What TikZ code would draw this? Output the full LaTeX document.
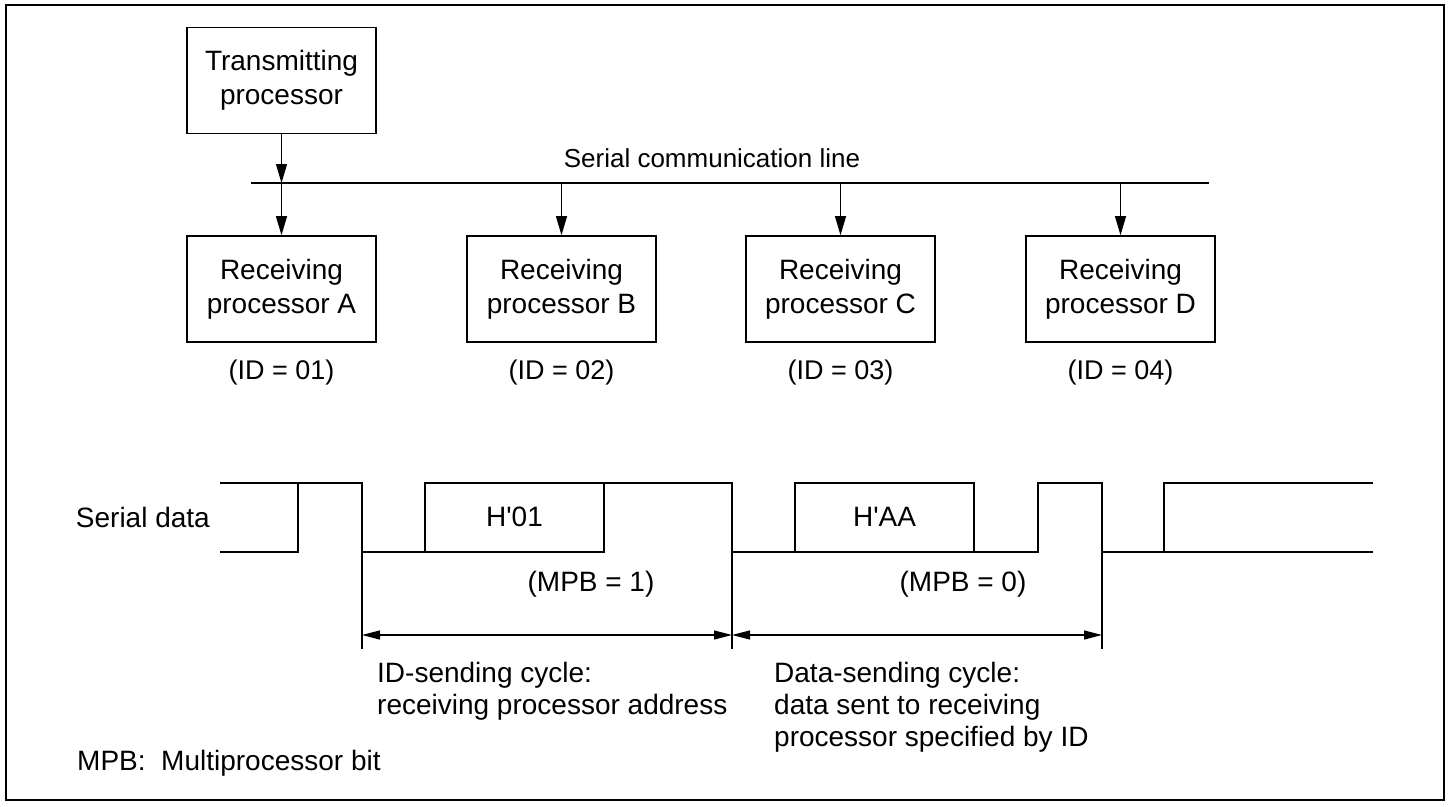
\documentclass[tikz,border=0pt]{standalone}
\usepackage{fontspec}
\setmainfont{Liberation Sans}
\usetikzlibrary{arrows.meta}
\begin{document}
\begin{tikzpicture}[x=1pt,y=-1pt,
  txt/.style={inner sep=0pt, font=\fontsize{28}{32}\selectfont},
  procbox/.style={draw, line width=1.6pt, minimum width=189pt, minimum height=106pt, align=center, inner sep=0pt, font=\fontsize{28}{34}\selectfont},
  busline/.style={line width=1.1pt},
  arr/.style={line width=1.2pt, -{Triangle[length=19pt,width=11pt]}},
  wave/.style={line width=1.6pt, line cap=rect},
  dimline/.style={line width=1.1pt},
  dimarr/.style={line width=1.1pt, {Triangle[length=18pt,width=9pt]}-{Triangle[length=18pt,width=9pt]}},
  frame/.style={line width=1.5pt}
]
\useasboundingbox (0,0) rectangle (1451,806);
\draw[frame] (6,5) rectangle (1444,800);

% processors
\node[procbox] (tx) at (281.5,80.5) {Transmitting\\processor};
\node[procbox] (ra) at (281.5,289) {Receiving\\processor A};
\node[procbox] (rb) at (561.5,289) {Receiving\\processor B};
\node[procbox] (rc) at (840.5,289) {Receiving\\processor C};
\node[procbox] (rd) at (1120.5,289) {Receiving\\processor D};

\node[txt, font=\fontsize{27}{32}\selectfont] (ida) at (281.5,373) {(ID = 01)};
\node[txt, font=\fontsize{27}{32}\selectfont] (idb) at (561.5,373) {(ID = 02)};
\node[txt, font=\fontsize{27}{32}\selectfont] (idc) at (840.5,373) {(ID = 03)};
\node[txt, font=\fontsize{27}{32}\selectfont] (idd) at (1120.5,373) {(ID = 04)};

% bus
\coordinate (busL) at (251,183);
\coordinate (busR) at (1209,183);
\draw[busline] (busL) -- (busR);
\node[txt, anchor=base, font=\fontsize{26}{32}\selectfont] (buslbl) at (712,167) {Serial communication line};
\coordinate (bA) at (281.5,183);
\coordinate (bB) at (561.5,183);
\coordinate (bC) at (840.5,183);
\coordinate (bD) at (1120.5,183);
\draw[arr] (tx.south) -- (bA);
\draw[arr] (bA) -- (ra.north);
\draw[arr] (bB) -- (rb.north);
\draw[arr] (bC) -- (rc.north);
\draw[arr] (bD) -- (rd.north);

% serial data waveform
\node[txt, anchor=east] (sd) at (210,517) {Serial data};
\draw[wave] (221,483) -- (362,483);
\draw[wave] (425,483) -- (732,483);
\draw[wave] (795,483) -- (974,483);
\draw[wave] (1038,483) -- (1102,483);
\draw[wave] (1164,483) -- (1372,483);
\draw[wave] (221,552) -- (298,552);
\draw[wave] (362,552) -- (604,552);
\draw[wave] (732,552) -- (1038,552);
\draw[wave] (1102,552) -- (1372,552);
\foreach \xx in {298,362,425,604,732,795,974,1038,1102,1164}
  \draw[wave] (\xx,483) -- (\xx,552);
\node[txt] (h01) at (514.5,517) {H\textquotesingle 01};
\node[txt] (haa) at (884.5,517) {H\textquotesingle AA};

% dimensions
\node[txt] (mpb1) at (591,584) {(MPB = 1)};
\node[txt] (mpb0) at (963,584) {(MPB = 0)};
\draw[dimline] (362,552) -- (362,649);
\draw[dimline] (732,552) -- (732,649);
\draw[dimline] (1102,552) -- (1102,649);
\coordinate (d1) at (362,635);
\coordinate (d2) at (732,635);
\coordinate (d3) at (1102,635);
\draw[dimarr] (d1) -- (d2);
\draw[dimarr] (d2) -- (d3);

\node[txt, anchor=north west, align=left] (idcyc) at (377,662) {ID-sending cycle:\\receiving processor address};
\node[txt, anchor=north west, align=left] (dcyc) at (774,662) {Data-sending cycle:\\data sent to receiving\\processor specified by ID};
\node[txt, anchor=base west] (note) at (77,770) {MPB:\ \ Multiprocessor bit};
\end{tikzpicture}
\end{document}
